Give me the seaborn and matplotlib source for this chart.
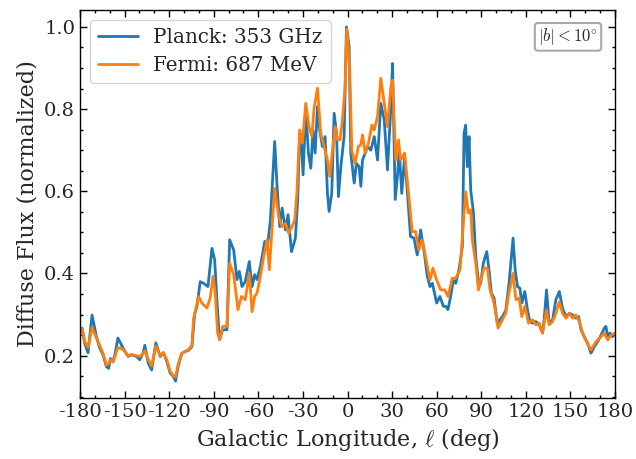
import numpy as np
import pandas as pd
import matplotlib
matplotlib.use("Agg")
import matplotlib.pyplot as plt
import seaborn as sns
from matplotlib.ticker import MultipleLocator

# ---- data ----
lon_planck = [-180, -178.6, -176.9, -174.6, -171.9, -169, -166.7, -164.5, -162.2, -160.7,
              -159.6, -157.8, -156.3, -154.5, -151, -147.6, -145.4, -142, -139.8, -137.5,
              -136.4, -134, -131.8, -129, -126, -123.9, -121.6, -119.4, -117, -115.7,
              -113.9, -111.6, -109.3, -107, -104.7, -102.9, -101.3, -99.1, -96.8, -93.9,
              -91.2, -89.4, -87.9, -86.1, -84, -81.1, -79.3, -76.6, -74.4, -72.8,
              -71, -68.8, -66.1, -64.2, -62.5, -60.9, -58.6, -55.7, -54.1, -51.9,
              -49, -47.4, -45.6, -44, -41.8, -40, -37.7, -35.1, -33.5, -32.2,
              -31, -29.9, -28.1, -26.3, -24.7, -23.2, -21.8, -20.2, -18.7, -16.9,
              -15.1, -13.5, -12.4, -10.6, -9, -7.4, -6.1, -4.5, -2.3, -0.7,
              1.1, 2.2, 4.5, 6, 7.8, 9, 10.1, 11.9, 13.5, 15.7,
              18, 20.2, 22.4, 24.7, 26.9, 29.2, 30.3, 32.1, 33.7, 34.8,
              36.5, 38.4, 40.2, 42.4, 44.7, 46.9, 49.2, 51.4, 53.7, 55.5,
              57.1, 60, 62.2, 64.5, 66.1, 67.6, 69.4, 71.2, 72.8, 75,
              77.3, 78.4, 79.5, 80.6, 81.8, 82.9, 84.7, 86.3, 88.5, 89.6,
              91.4, 93.7, 95.2, 96.8, 98.6, 100.8, 104.2, 106.5, 108.7, 110,
              111.4, 112.8, 114.4, 116, 117.3, 119.3, 121.1, 122.7, 124.5, 126.7,
              129, 131.2, 132.3, 133.9, 135.7, 138, 140.2, 142.5, 144.7, 147,
              149.2, 151.5, 153.7, 155.5, 157.1, 159.3, 161.6, 163.8, 166.1, 168.3,
              170.6, 172.8, 173.9, 175.1, 176.6, 178.4, 180]
flux_planck = [0.263, 0.267, 0.231, 0.207, 0.299, 0.247, 0.218, 0.202, 0.173, 0.169,
               0.193, 0.185, 0.207, 0.243, 0.218, 0.198, 0.202, 0.198, 0.190, 0.207,
               0.225, 0.181, 0.165, 0.231, 0.198, 0.207, 0.186, 0.158, 0.148, 0.138,
               0.175, 0.205, 0.210, 0.213, 0.222, 0.300, 0.320, 0.380, 0.376, 0.368,
               0.461, 0.433, 0.336, 0.239, 0.263, 0.263, 0.482, 0.457, 0.385, 0.405,
               0.368, 0.380, 0.429, 0.368, 0.397, 0.385, 0.417, 0.478, 0.457, 0.530,
               0.721, 0.612, 0.514, 0.559, 0.506, 0.543, 0.453, 0.485, 0.580, 0.740,
               0.717, 0.640, 0.798, 0.693, 0.656, 0.749, 0.693, 0.806, 0.749, 0.709,
               0.733, 0.595, 0.551, 0.595, 0.790, 0.741, 0.587, 0.660, 0.733, 1.000,
               0.952, 0.693, 0.620, 0.668, 0.660, 0.612, 0.676, 0.693, 0.709, 0.700,
               0.733, 0.676, 0.814, 0.774, 0.652, 0.806, 0.911, 0.580, 0.640, 0.700,
               0.595, 0.684, 0.603, 0.490, 0.486, 0.445, 0.506, 0.457, 0.393, 0.368,
               0.376, 0.328, 0.344, 0.320, 0.320, 0.312, 0.344, 0.384, 0.376, 0.409,
               0.465, 0.741, 0.761, 0.660, 0.733, 0.603, 0.550, 0.441, 0.368, 0.376,
               0.425, 0.453, 0.409, 0.352, 0.340, 0.279, 0.295, 0.310, 0.376, 0.430,
               0.486, 0.409, 0.368, 0.364, 0.328, 0.356, 0.311, 0.283, 0.279, 0.283,
               0.275, 0.255, 0.287, 0.360, 0.279, 0.287, 0.336, 0.356, 0.315, 0.295,
               0.303, 0.299, 0.291, 0.295, 0.263, 0.246, 0.230, 0.206, 0.222, 0.234,
               0.250, 0.267, 0.271, 0.246, 0.255, 0.246, 0.255]

lon_fermi = [-180, -178.6, -176.9, -174.6, -171.9, -169, -166.7, -164.5, -162.2, -160.7,
             -159.6, -157.8, -156.3, -154.5, -151, -147.6, -145.4, -142, -139.8, -137.5,
             -136.4, -134, -131.8, -129, -126, -123.9, -121.6, -119.4, -117, -115.7,
             -113.9, -111.6, -109.3, -107, -104.7, -103.6, -100.2, -98, -94.6, -92.4,
             -90.5, -89, -87.4, -86.1, -84, -81.1, -79.3, -76.6, -73.7, -71.4,
             -68.8, -66.1, -64.2, -62.5, -60.9, -58.6, -56.4, -54.1, -52.6, -49,
             -46.3, -44, -41.8, -39.6, -37.3, -35.5, -34, -32.2, -30.4, -28.1,
             -25.9, -24, -22.5, -20.2, -18, -15.8, -13.5, -11.9, -10.1, -8.3,
             -6.7, -5.1, -3.4, -1.6, -0.5, 1.5, 2.9, 5.1, 7.3, 8.9,
             10.1, 11.9, 14.1, 16.4, 18, 20.2, 22.4, 24.7, 26.9, 29.2,
             30.3, 32.5, 34.3, 35.7, 38.4, 41.3, 43.5, 45.8, 48, 50.3,
             52.5, 55.5, 57.5, 60, 62.7, 65.4, 67.6, 70.5, 72.8, 75.7,
             77.3, 79.5, 81.3, 82.9, 84, 86.3, 88.1, 89.6, 91.9, 94.1,
             95.9, 98.6, 101.3, 104.2, 106.5, 108.5, 111.4, 113.3, 115.5, 117.3,
             119.3, 121.8, 124.5, 126.7, 129, 131.2, 133.9, 135.7, 138, 140.2,
             142.5, 144.7, 147, 149.2, 151.5, 153.7, 156, 158.2, 160.4, 163.8,
             167.2, 170.6, 172.8, 175.1, 177.3, 180]
flux_fermi = [0.260, 0.265, 0.235, 0.220, 0.269, 0.243, 0.225, 0.205, 0.177, 0.180,
              0.190, 0.185, 0.200, 0.220, 0.215, 0.200, 0.203, 0.200, 0.198, 0.205,
              0.212, 0.190, 0.175, 0.223, 0.200, 0.207, 0.190, 0.162, 0.150, 0.148,
              0.180, 0.205, 0.210, 0.215, 0.225, 0.290, 0.344, 0.328, 0.316, 0.340,
              0.393, 0.352, 0.255, 0.239, 0.271, 0.271, 0.425, 0.397, 0.312, 0.344,
              0.336, 0.400, 0.307, 0.344, 0.352, 0.393, 0.441, 0.482, 0.409, 0.607,
              0.539, 0.514, 0.522, 0.498, 0.514, 0.530, 0.600, 0.749, 0.717, 0.814,
              0.757, 0.733, 0.802, 0.851, 0.741, 0.709, 0.676, 0.636, 0.700, 0.757,
              0.725, 0.725, 0.774, 0.855, 0.995, 0.895, 0.700, 0.668, 0.709, 0.713,
              0.737, 0.693, 0.717, 0.761, 0.749, 0.782, 0.875, 0.814, 0.757, 0.855,
              0.871, 0.676, 0.725, 0.676, 0.693, 0.587, 0.502, 0.502, 0.457, 0.482,
              0.441, 0.384, 0.413, 0.384, 0.360, 0.360, 0.344, 0.388, 0.388, 0.409,
              0.490, 0.599, 0.547, 0.555, 0.482, 0.425, 0.360, 0.384, 0.413, 0.413,
              0.360, 0.328, 0.267, 0.287, 0.303, 0.350, 0.400, 0.336, 0.340, 0.295,
              0.320, 0.279, 0.287, 0.275, 0.279, 0.255, 0.311, 0.275, 0.283, 0.303,
              0.331, 0.303, 0.291, 0.303, 0.291, 0.299, 0.283, 0.255, 0.238, 0.214,
              0.234, 0.246, 0.255, 0.238, 0.250, 0.255]

series_labels = ["Planck: 353 GHz", "Fermi: 687 MeV"]
xtick_values = [-180, -150, -120, -90, -60, -30, 0, 30, 60, 90, 120, 150, 180]
xtick_labels = ["-180", "-150", "-120", "-90", "-60", "-30", "0", "30", "60", "90", "120", "150", "180"]
ytick_values = [0.2, 0.4, 0.6, 0.8, 1.0]

# ---- style ----
sns.set_style("ticks")
plt.rcParams["font.family"] = ["DejaVu Serif"]
plt.rcParams["mathtext.fontset"] = "cm"
plt.rcParams["axes.unicode_minus"] = False

fig = plt.figure(figsize=(6.36, 4.59), dpi=100)
ax = fig.add_axes([0.1258, 0.133, 0.8412, 0.846])

df_p = pd.DataFrame({"lon": lon_planck, "flux": flux_planck})
df_f = pd.DataFrame({"lon": lon_fermi, "flux": flux_fermi})
sns.lineplot(data=df_p, x="lon", y="flux", ax=ax, color="#1f77b4", lw=2,
             label=series_labels[0], estimator=None)
sns.lineplot(data=df_f, x="lon", y="flux", ax=ax, color="#ff7f0e", lw=2,
             label=series_labels[1], estimator=None)

ax.set_xlim(-180, 180)
ax.set_ylim(0.097, 1.042)
ax.set_xticks(xtick_values)
ax.set_xticklabels(xtick_labels)
ax.set_yticks(ytick_values)
ax.xaxis.set_minor_locator(MultipleLocator(10))
ax.yaxis.set_minor_locator(MultipleLocator(0.05))
ax.tick_params(which="both", direction="in", top=True, right=True, labelsize=14,
               color="black", width=1)
ax.tick_params(which="major", length=5)
ax.tick_params(which="minor", length=2.5)
for s in ax.spines.values():
    s.set_linewidth(1.0)
    s.set_color("black")

ax.set_xlabel(r"Galactic Longitude, $\ell$ (deg)", fontsize=16)
ax.set_ylabel("Diffuse Flux (normalized)", fontsize=16)

leg = ax.legend(loc="upper left", fontsize=14.3, frameon=True, handlelength=2.0)

ax.text(0.968, 0.957, r"$|b| < 10^{\circ}$", transform=ax.transAxes, ha="right", va="top",
        fontsize=12,
        bbox=dict(boxstyle="round,pad=0.2", facecolor="white", edgecolor="darkgray", lw=1.5))

fig.savefig("out.png", dpi=100)
